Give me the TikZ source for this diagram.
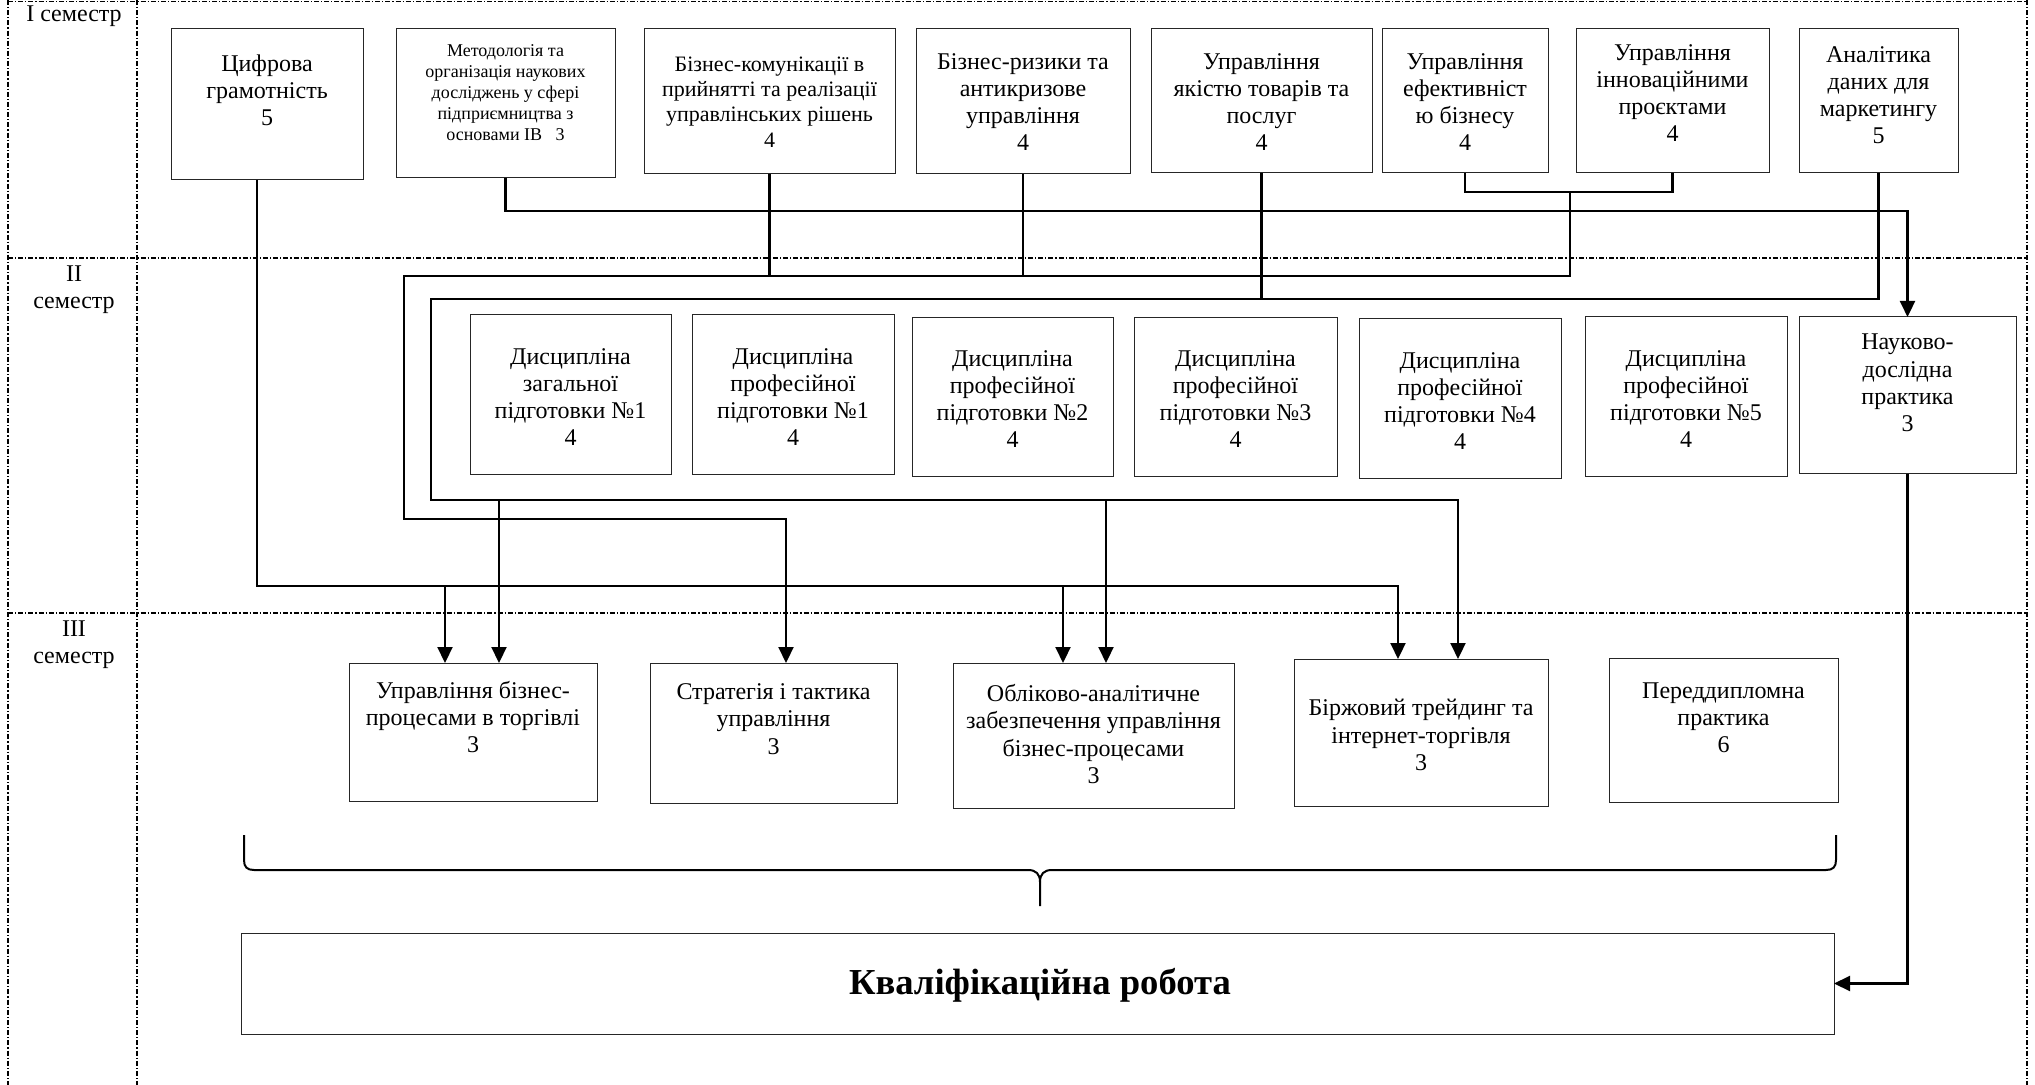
\documentclass[tikz,border=0pt]{standalone}
\usepackage{fontspec}
\setmainfont{Liberation Serif}
\usetikzlibrary{arrows.meta,fit}
\begin{document}
\begin{tikzpicture}[x=0.5pt,y=-0.5pt,
  box/.style={draw=black!85, line width=0.5pt, inner sep=0pt, outer sep=0pt},
  txt/.style={align=center, inner sep=0pt, font=\fontsize{12}{13.6}\selectfont},
  txtsmall/.style={align=center, inner sep=0pt, font=\fontsize{9}{10.5}\selectfont},
  txtmid/.style={align=center, inner sep=0pt, font=\fontsize{11}{12.6}\selectfont},
  conn/.style={line width=1.1pt},
  arr/.style={line width=1.1pt, -{Triangle[length=8pt,width=7.5pt]}},
  sepline/.style={line width=0.7pt, dash pattern=on 2.5pt off 1pt on 0.6pt off 1pt},
  brace/.style={line width=1pt},
]
\useasboundingbox (0,0) rectangle (2035,1085);
\fill[white] (0,0) rectangle (2035,1085);

% ---- grid of semesters ----
\draw[sepline] (8,1.5) -- (2027,1.5);
\draw[sepline] (8,258) -- (2027,258);
\draw[sepline] (8,613) -- (2027,613);
\draw[sepline] (8,0) -- (8,1085);
\draw[sepline] (137,0) -- (137,1085);
\draw[sepline] (2027,0) -- (2027,1085);

\node[txt] (s1) at (74,16) {I семестр};
\node[txt] (s2) at (74,290) {II\\семестр};
\node[txt] (s3) at (74,645) {III\\семестр};

% ---- semester I ----
\node[box, fit={(171,29) (363,180)}] (cifr) {};
\node[txt] (cifr-t) at (267,90) {Цифрова\\грамотність\\5};
\node[box, fit={(396,29) (615,178)}] (met) {};
\node[txtsmall] (met-t) at (505.5,93) {Методологія та\\організація наукових\\досліджень у сфері\\підприємництва з\\основами ІВ\ \ \ 3};
\node[box, fit={(644,29) (895,174)}] (bizk) {};
\node[txtmid] (bizk-t) at (769.5,102) {Бізнес-комунікації в\\прийнятті та реалізації\\управлінських рішень\\4};
\node[box, fit={(916,29) (1130,174)}] (bizr) {};
\node[txt] (bizr-t) at (1023,102) {Бізнес-ризики та\\антикризове\\управління\\4};
\node[box, fit={(1151,29) (1372,173)}] (yak) {};
\node[txt] (yak-t) at (1261.5,102) {Управління\\якістю товарів та\\послуг\\4};
\node[box, fit={(1382,29) (1548,173)}] (efek) {};
\node[txt] (efek-t) at (1465,102) {Управління\\ефективніст\\ю бізнесу\\4};
\node[box, fit={(1576,29) (1769,173)}] (inno) {};
\node[txt] (inno-t) at (1672.5,93) {Управління\\інноваційними\\проєктами\\4};
\node[box, fit={(1799,29) (1958,173)}] (anal) {};
\node[txt] (anal-t) at (1878.5,95) {Аналітика\\даних для\\маркетингу\\5};

% ---- semester II ----
\node[box, fit={(470,315) (671,475)}] (dz1) {};
\node[txt] (dz1-t) at (570.5,397) {Дисципліна\\загальної\\підготовки №1\\4};
\node[box, fit={(692,315) (894,475)}] (dp1) {};
\node[txt] (dp1-t) at (793,397) {Дисципліна\\професійної\\підготовки №1\\4};
\node[box, fit={(912,318) (1113,477)}] (dp2) {};
\node[txt] (dp2-t) at (1012.5,399) {Дисципліна\\професійної\\підготовки №2\\4};
\node[box, fit={(1134,318) (1337,477)}] (dp3) {};
\node[txt] (dp3-t) at (1235.5,399) {Дисципліна\\професійної\\підготовки №3\\4};
\node[box, fit={(1359,319) (1561,479)}] (dp4) {};
\node[txt] (dp4-t) at (1460,401) {Дисципліна\\професійної\\підготовки №4\\4};
\node[box, fit={(1585,317) (1787,477)}] (dp5) {};
\node[txt] (dp5-t) at (1686,399) {Дисципліна\\професійної\\підготовки №5\\4};
\node[box, fit={(1799,317) (2016,474)}] (nau) {};
\node[txt] (nau-t) at (1907.5,383) {Науково-\\дослідна\\практика\\3};

% ---- semester III ----
\node[box, fit={(349,663) (597,801)}] (ubp) {};
\node[txt] (ubp-t) at (473,717) {Управління бізнес-\\процесами в торгівлі\\3};
\node[box, fit={(650,663) (897,803)}] (strat) {};
\node[txt] (strat-t) at (773.5,719) {Стратегія і тактика\\управління\\3};
\node[box, fit={(953,663) (1234,808)}] (obl) {};
\node[txt] (obl-t) at (1093.5,734) {Обліково-аналітичне\\забезпечення управління\\бізнес-процесами\\3};
\node[box, fit={(1294,659) (1548,806)}] (bir) {};
\node[txt] (bir-t) at (1421,735) {Біржовий трейдинг та\\інтернет-торгівля\\3};
\node[box, fit={(1609,658) (1838,802)}] (pered) {};
\node[txt] (pered-t) at (1723.5,718) {Переддипломна\\практика\\6};

% ---- final work ----
\node[box, fit={(241,933) (1834,1034)}] (kval) {};
\node[font=\fontsize{18.3}{20}\selectfont\bfseries, inner sep=0pt] (kval-t) at (1040,985) {Кваліфікаційна робота};

% ---- routing coordinates ----
\coordinate (cifrBus) at (257,586);
\coordinate (metBus) at (508,211);
\coordinate (brkBus) at (1570,192);
\coordinate (outerTL) at (404,276);
\coordinate (outerBL) at (404,519);
\coordinate (innerTL) at (431,299);
\coordinate (innerBL) at (431,500);
\coordinate (a1) at (445,0);
\coordinate (a2) at (499,0);
\coordinate (a3) at (786,0);
\coordinate (a4) at (1063,0);
\coordinate (a5) at (1106,0);
\coordinate (a6) at (1398,0);
\coordinate (a7) at (1458,0);

% Цифрова грамотність bus
\draw[arr] (cifr.south -| cifrBus) -- (cifrBus) -| (bir.north -| a6);
\draw[arr] (cifrBus -| a1) -- (ubp.north -| a1);
\draw[arr] (cifrBus -| a4) -- (obl.north -| a4);

% outer loop
\draw[conn] (bizk.south) -- (bizk.south |- outerTL);
\draw[conn] (bizr.south) -- (bizr.south |- outerTL);
\draw[conn] (efek.south) |- (brkBus) -| (inno.south);
\draw[arr] (brkBus) |- (outerTL) -- (outerBL) -| (strat.north -| a3);

% inner loop
\draw[conn] (yak.south) -- (yak.south |- innerTL);
\draw[arr] (anal.south) |- (innerTL) -- (innerBL) -| (bir.north -| a7);
\draw[arr] (innerBL -| a2) -- (ubp.north -| a2);
\draw[arr] (innerBL -| a5) -- (obl.north -| a5);

% methodology -> research practice
\draw[arr] (met.south) |- (nau.north |- metBus) -- (nau.north);

% research practice -> final work
\draw[arr] (nau.south) |- (kval.east);

% brace
\draw[brace] (244,835) -- (244,860) .. controls (244,867) and (247,870) .. (254,870)
  -- (1028,870) .. controls (1036,870) and (1040,874) .. (1040,882) -- (1040,906);
\draw[brace] (1836,835) -- (1836,860) .. controls (1836,867) and (1833,870) .. (1826,870)
  -- (1052,870) .. controls (1044,870) and (1040,874) .. (1040,882);
\end{tikzpicture}
\end{document}
